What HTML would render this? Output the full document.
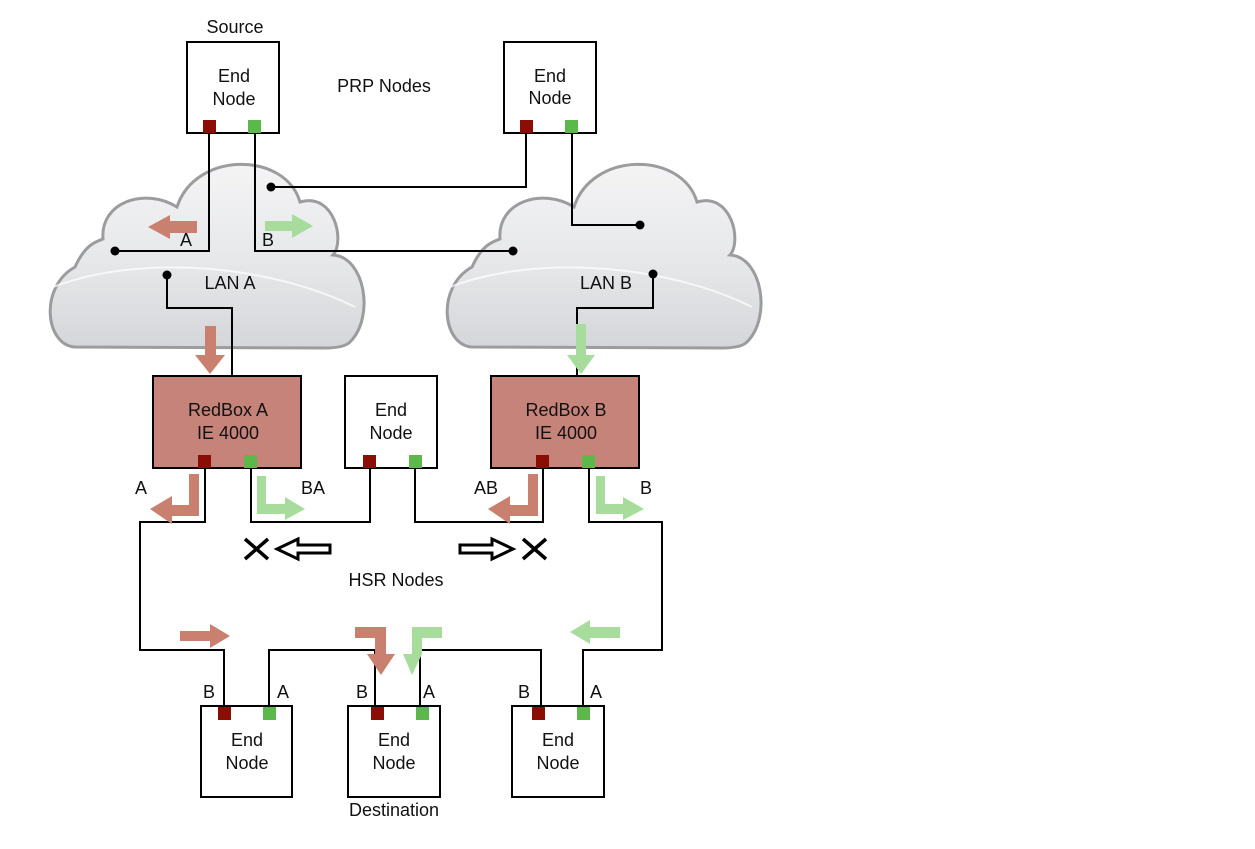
<!DOCTYPE html>
<html><head><meta charset="utf-8"><style>
html,body{margin:0;padding:0;background:#fff}
svg{display:block}
text{font-family:"Liberation Sans",sans-serif;font-size:18px;fill:#111}
</style></head><body>
<svg width="1255" height="849" viewBox="0 0 1255 849" xmlns="http://www.w3.org/2000/svg">
<defs>
<linearGradient id="cg" x1="0" y1="0" x2="0" y2="1">
<stop offset="0" stop-color="#f4f4f5"/><stop offset="0.55" stop-color="#e6e7e9"/><stop offset="1" stop-color="#d4d6d9"/>
</linearGradient>
<symbol id="cloud" viewBox="0 0 320 192" overflow="visible">
<path d="M30,190 C0,188 -6,130 30,110 C40,88 50,85 58,82 C55,45 100,30 132,50 C150,-6 240,-6 255,45 C290,35 300,85 288,98 C320,100 330,160 305,185 C300,190 290,191 280,191 Z" fill="url(#cg)" stroke="#9c9c9e" stroke-width="3"/>
<path d="M8,130 C100,95 230,110 310,150" fill="none" stroke="#ffffff" stroke-width="2" opacity="0.7"/>
</symbol>
</defs>

<use href="#cloud" x="45" y="157" width="320" height="192"/>
<use href="#cloud" x="442" y="157" width="320" height="192"/>

<g fill="none" stroke="#000" stroke-width="2">
<polyline points="209,133 209,251 115,251"/>
<polyline points="255,133 255,251 513,251"/>
<polyline points="526,133 526,187 271,187"/>
<polyline points="572,133 572,225 640,225"/>
<polyline points="167,275 167,308 232,308 232,376"/>
<polyline points="653,274 653,308 577,308 577,376"/>
<polyline points="205,468 205,522 140,522 140,650 224,650 224,706"/>
<polyline points="251,468 251,522 370,522 370,468"/>
<polyline points="415,468 415,522 543,522 543,468"/>
<polyline points="589,468 589,522 662,522 662,650 583,650 583,706"/>
<polyline points="269,706 269,650 375,650 375,706"/>
<polyline points="420,706 420,650 541,650 541,706"/>
</g>
<g fill="#000">
<circle cx="115" cy="251" r="4.5"/><circle cx="513" cy="251" r="4.5"/>
<circle cx="271" cy="187" r="4.5"/><circle cx="640" cy="225" r="4.5"/>
<circle cx="167" cy="275" r="4.5"/><circle cx="653" cy="274" r="4.5"/>
</g>

<g stroke="#000" stroke-width="2">
<rect x="187" y="42" width="92" height="91" fill="#fff"/>
<rect x="504" y="42" width="92" height="91" fill="#fff"/>
<rect x="153" y="376" width="148" height="92" fill="#c6837a"/>
<rect x="345" y="376" width="92" height="92" fill="#fff"/>
<rect x="491" y="376" width="148" height="92" fill="#c6837a"/>
<rect x="201" y="706" width="91" height="91" fill="#fff"/>
<rect x="348" y="706" width="92" height="91" fill="#fff"/>
<rect x="512" y="706" width="92" height="91" fill="#fff"/>
</g>
<g>
<rect x="203" y="120" width="13" height="13" fill="#8b0e04"/><rect x="248" y="120" width="13" height="13" fill="#5cb84a"/>
<rect x="520" y="120" width="13" height="13" fill="#8b0e04"/><rect x="565" y="120" width="13" height="13" fill="#5cb84a"/>
<rect x="198" y="455" width="13" height="13" fill="#8b0e04"/><rect x="244" y="455" width="13" height="13" fill="#5cb84a"/>
<rect x="363" y="455" width="13" height="13" fill="#8b0e04"/><rect x="409" y="455" width="13" height="13" fill="#5cb84a"/>
<rect x="536" y="455" width="13" height="13" fill="#8b0e04"/><rect x="582" y="455" width="13" height="13" fill="#5cb84a"/>
<rect x="218" y="707" width="13" height="13" fill="#8b0e04"/><rect x="263" y="707" width="13" height="13" fill="#5cb84a"/>
<rect x="371" y="707" width="13" height="13" fill="#8b0e04"/><rect x="416" y="707" width="13" height="13" fill="#5cb84a"/>
<rect x="532" y="707" width="13" height="13" fill="#8b0e04"/><rect x="577" y="707" width="13" height="13" fill="#5cb84a"/>
</g>

<g fill="#c9806f">
<path d="M197,221 L170,221 L170,215 L148,227 L170,239 L170,233 L197,233 Z"/>
<path d="M205,326 L216,326 L216,355 L225,355 L210,374 L195,355 L205,355 Z"/>
<path d="M189,474 L199,474 L199,516 L172,516 L172,524 L150,509 L172,496 L172,505 L189,505 Z"/>
<path d="M528,474 L538,474 L538,516 L510,516 L510,524 L488,509 L510,496 L510,505 L528,505 Z"/>
<path d="M180,631 L210,631 L210,624 L230,636 L210,648 L210,641 L180,641 Z"/>
<path d="M355,627 L386,627 L386,654 L395,654 L381,675 L367,654 L375,654 L375,638 L355,638 Z"/>
</g>
<g fill="#a8dc9c">
<path d="M265,221 L292,221 L292,214 L313,226 L292,238 L292,231 L265,231 Z"/>
<path d="M576,324 L586,324 L586,355 L595,355 L581,374 L567,355 L576,355 Z"/>
<path d="M257,476 L266,476 L266,504 L285,504 L285,497 L305,509 L285,520 L285,514 L257,514 Z"/>
<path d="M596,476 L605,476 L605,504 L623,504 L623,497 L644,509 L623,520 L623,514 L596,514 Z"/>
<path d="M620,627 L590,627 L590,620 L570,632 L590,644 L590,638 L620,638 Z"/>
<path d="M442,627 L412,627 L412,654 L403,654 L412,675 L422,654 L422,638 L442,638 Z"/>
</g>

<g stroke="#000" stroke-width="3.5" fill="none">
<path d="M245,539 L268,559 M268,539 L245,559"/>
<path d="M523,539 L546,559 M546,539 L523,559"/>
</g>
<g stroke="#000" stroke-width="3" fill="#fff">
<path d="M330,545 L298,545 L298,539 L277,549 L298,559 L298,553 L330,553 Z"/>
<path d="M460,545 L492,545 L492,539 L513,549 L492,559 L492,553 L460,553 Z"/>
</g>

<g text-anchor="middle">
<text x="235" y="33">Source</text>
<text x="234" y="82">End</text><text x="234" y="105">Node</text>
<text x="550" y="82">End</text><text x="550" y="104">Node</text>
<text x="384" y="92">PRP Nodes</text>
<text x="230" y="289">LAN A</text>
<text x="606" y="289">LAN B</text>
<text x="228" y="416">RedBox A</text><text x="228" y="439">IE 4000</text>
<text x="391" y="416">End</text><text x="391" y="439">Node</text>
<text x="566" y="416">RedBox B</text><text x="566" y="439">IE 4000</text>
<text x="396" y="586">HSR Nodes</text>
<text x="247" y="746">End</text><text x="247" y="769">Node</text>
<text x="394" y="746">End</text><text x="394" y="769">Node</text>
<text x="558" y="746">End</text><text x="558" y="769">Node</text>
<text x="394" y="816">Destination</text>
</g>
<text x="180" y="246">A</text>
<text x="262" y="246">B</text>
<text x="135" y="494">A</text>
<text x="301" y="494">BA</text>
<text x="474" y="494">AB</text>
<text x="640" y="494">B</text>
<text x="203" y="698">B</text><text x="277" y="698">A</text>
<text x="356" y="698">B</text><text x="423" y="698">A</text>
<text x="518" y="698">B</text><text x="590" y="698">A</text>
</svg>
</body></html>
